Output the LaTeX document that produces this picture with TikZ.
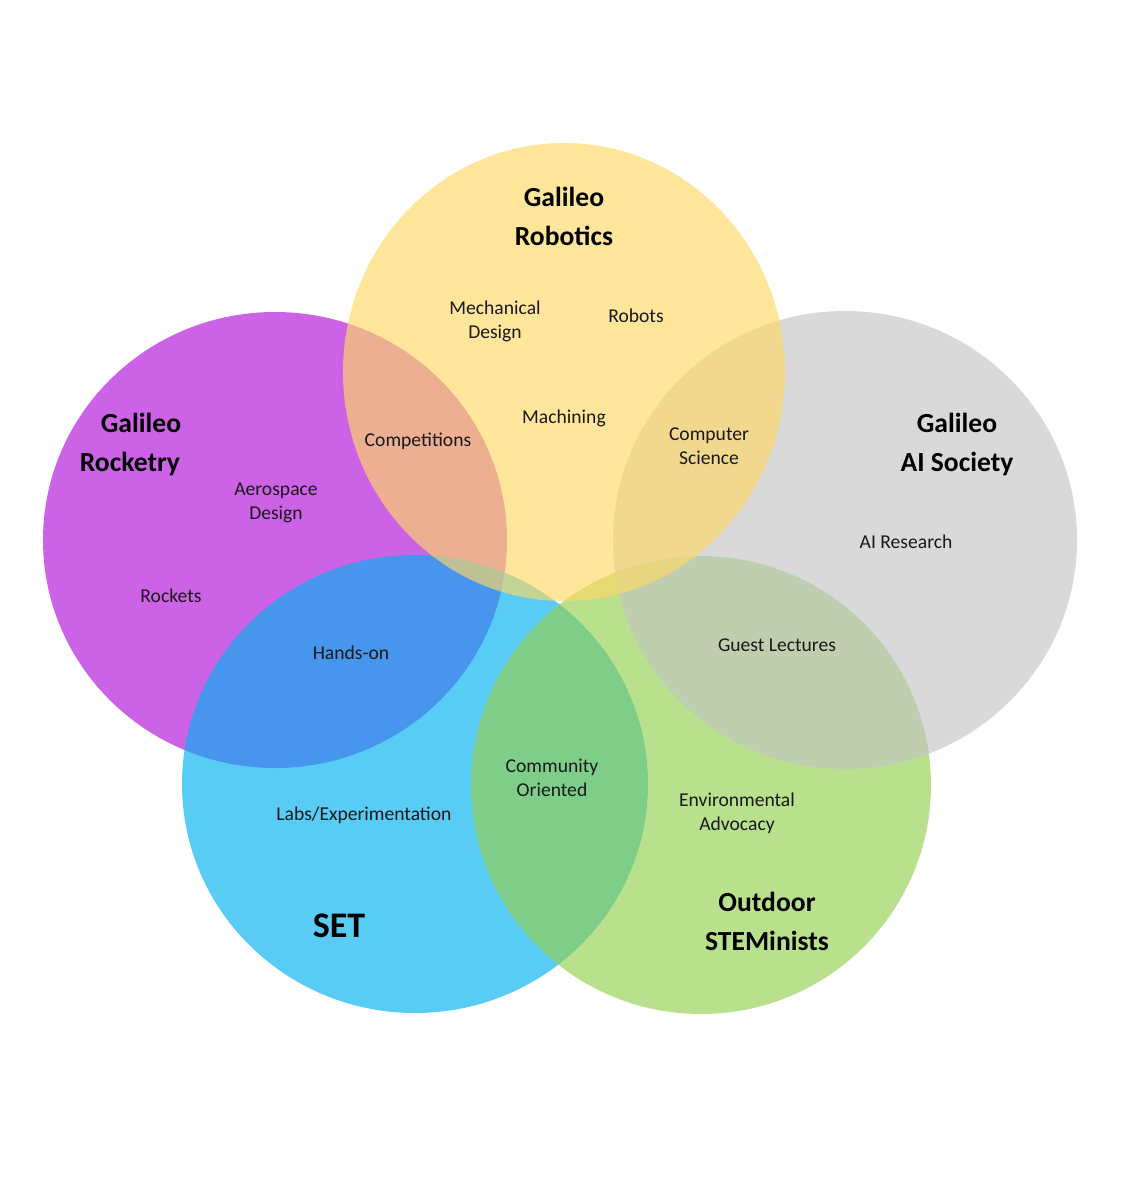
\documentclass[tikz,border=0pt]{standalone}
\usepackage{fontspec}
\setmainfont{Carlito}
\usepackage{tikz}
\usetikzlibrary{positioning}

\definecolor{rocketPurple}{RGB}{177,14,217}
\definecolor{roboYellow}{RGB}{255,217,102}
\definecolor{aiGray}{RGB}{196,196,196}
\definecolor{setBlue}{RGB}{0,176,240}
\definecolor{outGreen}{RGB}{146,208,80}

\begin{document}
\begin{tikzpicture}[x=0.5pt, y=-0.5pt,
  every node/.style={align=center, inner sep=0pt, text=black!90},
  topic/.style={font=\fontsize{9.8pt}{12pt}\selectfont, yshift=-1pt},
  club/.style={font=\fontsize{13.8pt}{19.5pt}\selectfont\bfseries, text=black},
  blob/.style={fill opacity=0.65}]
  \useasboundingbox (0,0) rectangle (1129,1200);

  % Circles
  \fill[blob, rocketPurple] (275,540) ellipse [x radius=116pt, y radius=114pt];
  \fill[blob, setBlue] (415,784) ellipse [x radius=116.5pt, y radius=114.5pt];
  \fill[blob, outGreen] (701,785) ellipse [x radius=115pt, y radius=114.5pt];
  \fill[blob, aiGray] (845,540) ellipse [x radius=116pt, y radius=114.5pt];
  \fill[blob, roboYellow] (564,372) ellipse [x radius=110.5pt, y radius=114.5pt];

  % Club names
  \node[club] (robotics) at (564,216) {Galileo\\Robotics};
  \node[club] (rocketry) at (130,444) {\hspace*{11pt}Galileo\\Rocketry};
  \node[club] (aisoc) at (957,444) {Galileo\\AI Society};
  \node[club, font=\fontsize{18pt}{20pt}\selectfont\bfseries] (set) at (339,926) {SET};
  \node[club] (outdoor) at (767,921) {Outdoor\\STEMinists};

  % Topics
  \node[topic] (mech) at (495,319) {Mechanical\\Design};
  \node[topic] (robots) at (636,314) {Robots};
  \node[topic] (machining) at (564,416) {Machining};
  \node[topic] (comp) at (418,439) {Competitions};
  \node[topic] (cs) at (709,444) {Computer\\Science};
  \node[topic] (aero) at (276,501) {Aerospace\\Design};
  \node[topic] (rockets) at (171,594) {Rockets};
  \node[topic] (hands) at (351,651) {Hands-on};
  \node[topic] (airesearch) at (906,540) {AI Research};
  \node[topic] (guest) at (777,643) {Guest Lectures};
  \node[topic] (community) at (552,776) {Community\\Oriented};
  \node[topic] (labs) at (364,813) {Labs/Experimentation};
  \node[topic] (enviro) at (737,811) {Environmental\\Advocacy};
\end{tikzpicture}
\end{document}
